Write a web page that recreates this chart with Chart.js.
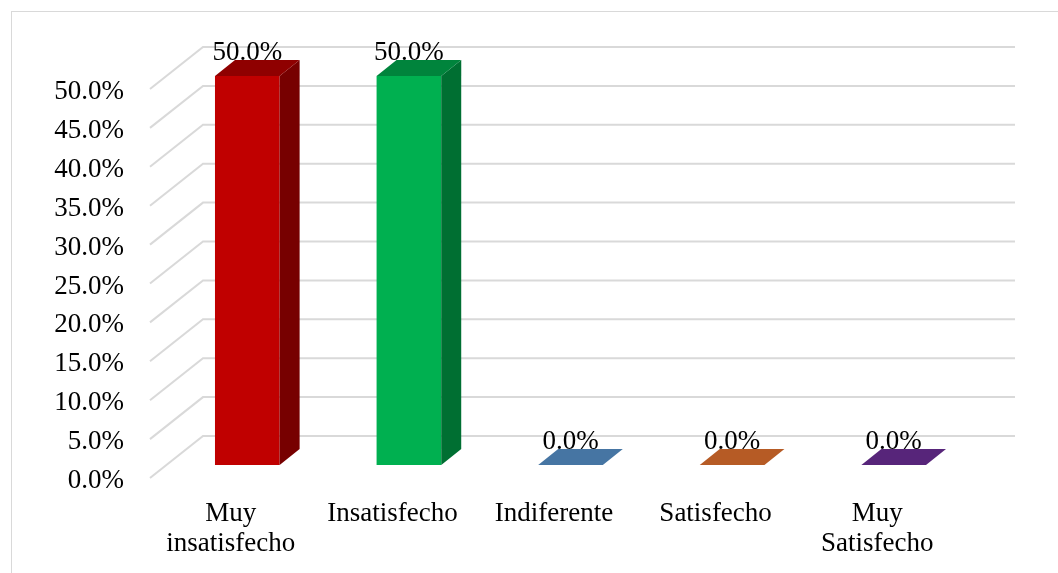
<!DOCTYPE html>
<html><head><meta charset="utf-8">
<script src="https://cdn.jsdelivr.net/npm/chart.js@4/dist/chart.umd.min.js"></script>
<style>html,body{margin:0;padding:0;background:#fff}#wrap{width:1058px;height:573px}</style>
</head><body><div id="wrap"><canvas id="c" width="1058" height="573"></canvas></div>
<script>
const categories = [["Muy","insatisfecho"], "Insatisfecho", "Indiferente", "Satisfecho", ["Muy","Satisfecho"]];
const values = [50.0, 50.0, 0.0, 0.0, 0.0];
const frontColors = ["#C00000", "#00B050", "#5B9BD5", "#ED7D31", "#7030A0"];
const topColors = ["#8F0000", "#00843C", "#4675A3", "#B65B25", "#57257A"];
const sideColors = ["#770000", "#006F32", "#3A6288", "#98491C", "#481E66"];
const yMin = 0, yMax = 50, yStep = 5;

const WALL_DX = 53, WALL_DY = -42;   // depth of the 3D walls
const SX = 16.5, SY = -13;           // bar placement inside the depth
const BDX = 20, BDY = -16;           // bar depth
const FONT = "'Liberation Serif', 'Times New Roman', serif";

const threeD = {
  id: 'threeD',
  beforeDraw(chart) {
    const ctx = chart.ctx;
    ctx.save();
    ctx.fillStyle = '#fff';
    ctx.fillRect(0, 0, chart.width, chart.height);
    ctx.strokeStyle = '#d9d9d9';
    ctx.lineWidth = 1;
    ctx.strokeRect(11.5, 11.5, chart.width + 50, chart.height + 50);
    ctx.restore();
  },
  beforeDatasetsDraw(chart) {
    const { ctx, chartArea: a, scales: { y } } = chart;
    ctx.save();
    ctx.strokeStyle = '#d9d9d9';
    ctx.lineWidth = 2;
    y.ticks.forEach(t => {
      const py = y.getPixelForValue(t.value);
      ctx.beginPath();
      ctx.moveTo(a.left, py);
      ctx.lineTo(a.left + WALL_DX, py + WALL_DY);
      ctx.lineTo(a.right + 57, py + WALL_DY);
      ctx.stroke();
    });
    ctx.restore();
    ctx.save();
    ctx.translate(SX, SY);
  },
  afterDatasetsDraw(chart) {
    const ctx = chart.ctx;
    ctx.restore();
    const meta = chart.getDatasetMeta(0);
    const poly = (pts, col) => {
      ctx.beginPath();
      ctx.moveTo(pts[0][0], pts[0][1]);
      for (let k = 1; k < pts.length; k++) ctx.lineTo(pts[k][0], pts[k][1]);
      ctx.closePath();
      ctx.fillStyle = col;
      ctx.fill();
    };
    ctx.save();
    meta.data.forEach((bar, i) => {
      const p = bar.getProps(['x', 'y', 'base', 'width'], true);
      const l = p.x - p.width / 2 + SX, r = p.x + p.width / 2 + SX;
      const top = Math.min(p.y, p.base) + SY, bot = Math.max(p.y, p.base) + SY;
      if (bot - top > 0.5) {
        poly([[r, top], [r + BDX, top + BDY], [r + BDX, bot + BDY], [r, bot]], sideColors[i]);
      }
      poly([[l, top], [l + BDX, top + BDY], [r + BDX, top + BDY], [r, top]], topColors[i]);
      ctx.fillStyle = '#000';
      ctx.font = '27px ' + FONT;
      ctx.textAlign = 'center';
      ctx.textBaseline = 'alphabetic';
      ctx.fillText(values[i].toFixed(1) + '%', p.x + SX, top + BDY);
    });
    ctx.restore();
  }
};

new Chart(document.getElementById('c'), {
  type: 'bar',
  data: {
    labels: categories,
    datasets: [{
      data: values,
      backgroundColor: frontColors,
      borderWidth: 0,
      barPercentage: 0.4,
      categoryPercentage: 1.0
    }]
  },
  plugins: [threeD],
  options: {
    responsive: false,
    animation: false,
    devicePixelRatio: 1,
    layout: { padding: { top: 89, right: 100, bottom: 0, left: 0 } },
    plugins: { legend: { display: false }, tooltip: { enabled: false } },
    scales: {
      x: {
        grid: { display: false },
        border: { display: false },
        ticks: { color: '#000', font: { family: FONT, size: 27, lineHeight: '30px' }, padding: 13, maxRotation: 0, autoSkip: false },
        afterFit(s) { s.height = 95; }
      },
      y: {
        min: yMin, max: yMax,
        grid: { display: false },
        border: { display: false },
        ticks: {
          stepSize: yStep, color: '#000', padding: 18, labelOffset: 3,
          font: { family: FONT, size: 27 },
          callback: v => Number(v).toFixed(1) + '%'
        },
        afterFit(s) { s.width = 150; }
      }
    }
  }
});
</script>
</body></html>
